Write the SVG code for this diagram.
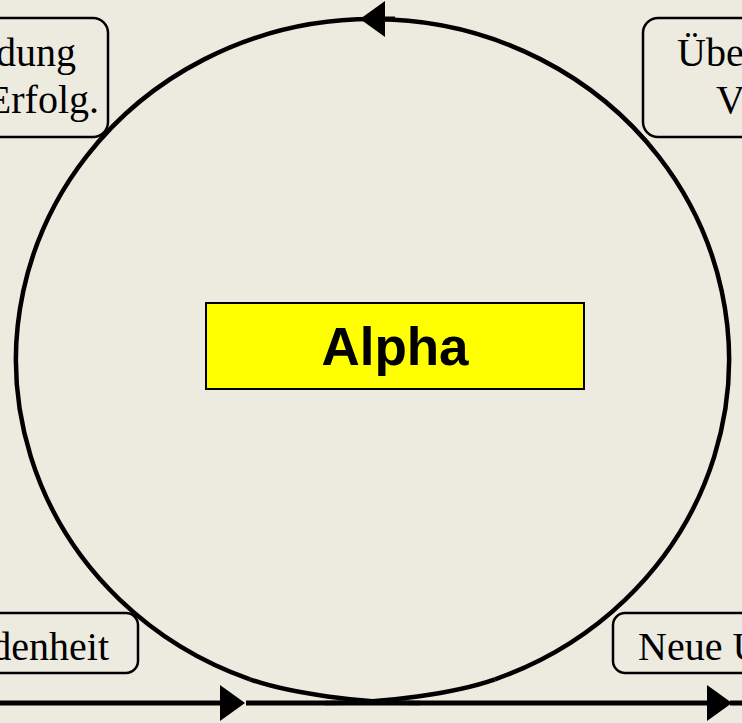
<svg xmlns="http://www.w3.org/2000/svg" width="742" height="723" viewBox="0 0 742 723">
  <defs>
    <marker id="arrow" markerUnits="userSpaceOnUse" markerWidth="25" markerHeight="36" refX="5" refY="18" orient="auto" viewBox="0 0 25 36">
      <path d="M0,0 L25,18 L0,36 Z" fill="#000"/>
    </marker>
  </defs>
  <style>
    .bg { fill: #EDEBE0; }
    .box { fill: #EDEBE0; stroke: #000; stroke-width: 2.5; }
    .lbl { font-family: "Liberation Serif", "Times New Roman", serif; font-size: 40px; fill: #000; }
    .conn { fill: none; stroke: #000; }
    .alpha { fill: #FFFF00; stroke: #000; stroke-width: 2; }
    .alphat { font-family: "Liberation Sans", Arial, sans-serif; font-weight: bold; font-size: 53px; fill: #000; }
  </style>
  <rect class="bg" x="0" y="0" width="742" height="723"/>

  <g id="node-topleft">
    <rect class="box" x="-40" y="18" width="148" height="119" rx="15" ry="15"/>
    <text class="lbl" x="76" y="66" text-anchor="end">dung</text>
    <text class="lbl" x="99" y="113" text-anchor="end">Erfolg.</text>
  </g>

  <g id="node-topright">
    <rect class="box" x="643" y="18" width="140" height="119" rx="15" ry="15"/>
    <text class="lbl" x="677" y="66">Über</text>
    <text class="lbl" x="716" y="113">V</text>
  </g>

  <g id="node-bottomleft">
    <rect class="box" x="-40" y="613" width="178" height="60" rx="12" ry="12"/>
    <text class="lbl" x="109" y="660" text-anchor="end">denheit</text>
  </g>

  <g id="node-bottomright">
    <rect class="box" x="613" y="613" width="170" height="60" rx="12" ry="12"/>
    <text class="lbl" x="638" y="660">Neue U</text>
  </g>

  <g id="connectors">
    <path class="conn" d="M250,679.3 A356.5,340.5 0 1 1 495,679.3" stroke-width="4.5"/>
    <path class="conn" d="M250,679.3 C290,693.3 360,703 420,703" stroke-width="4.5"/>
    <path class="conn" d="M495,679.3 C455,693.3 385,703 325,703" stroke-width="4.5"/>
    <path class="conn" d="M395,19 H380" stroke-width="5" marker-end="url(#arrow)"/>
    <path class="conn" d="M0,703 H225" stroke-width="5" marker-end="url(#arrow)"/>
    <path class="conn" d="M246,703 H712" stroke-width="5" marker-end="url(#arrow)"/>
    <path class="conn" d="M730,703 H742" stroke-width="5"/>
  </g>

  <g id="node-alpha">
    <rect class="alpha" x="206" y="303" width="378" height="86"/>
    <text class="alphat" x="395" y="365" text-anchor="middle">Alpha</text>
  </g>
</svg>
